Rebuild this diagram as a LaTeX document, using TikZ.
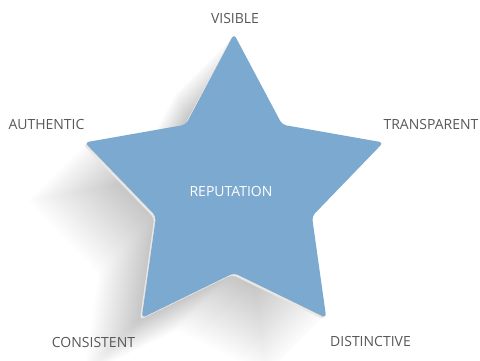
\documentclass[tikz,border=0pt]{standalone}
\usepackage{fontspec}
\setmainfont{Open Sans}
\definecolor{starblue}{RGB}{124,169,207}
\definecolor{labelgray}{RGB}{88,88,88}
\definecolor{rimgray}{RGB}{234,230,226}
% five point star round the origin
\newcommand{\starpath}{(90:157) -- (126:82) -- (162:157) -- (198:82) -- (234:157)
  -- (270:82) -- (306:157) -- (342:82) -- (18:157) -- (54:82) -- cycle}

\begin{document}
\begin{tikzpicture}[x=1pt,y=1pt,
  pointlabel/.style={text=labelgray,font=\fontsize{14}{16}\selectfont,inner sep=0pt},
  starfill/.style={fill=starblue,rounded corners=4pt}]
  \useasboundingbox (0,0) rectangle (480,361);
  \begin{scope}[shift={(234,170)}]
    % long shadow
    \foreach \i in {2,...,58}
      \fill[black,opacity=0.0042,rounded corners=4pt,shift={(-\i,-\i)}] \starpath;
    \fill[rimgray,rounded corners=4pt,shift={(-1.8,-1.8)}] \starpath;
    \fill[starfill] \starpath;
    \node[pointlabel,text=white] (reputation) at (-3,0) {REPUTATION};
  \end{scope}
  \node[pointlabel] (visible) at (235,342.5) {VISIBLE};
  \node[pointlabel] (authentic) at (46.5,236) {AUTHENTIC};
  \node[pointlabel] (transparent) at (431,236.5) {TRANSPARENT};
  \node[pointlabel] (consistent) at (93.5,19) {CONSISTENT};
  \node[pointlabel] (distinctive) at (370.5,19) {DISTINCTIVE};
\end{tikzpicture}
\end{document}
